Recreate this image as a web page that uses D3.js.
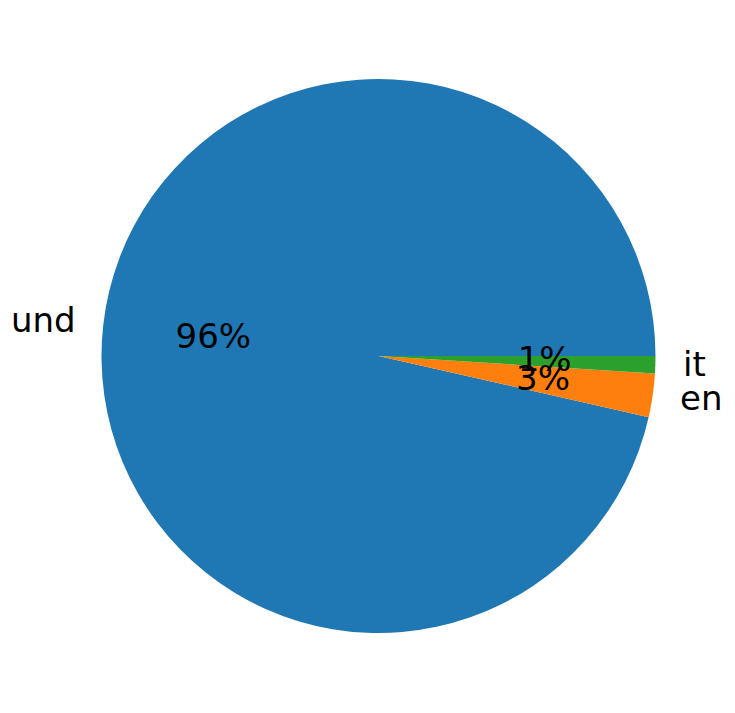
<!DOCTYPE html>
<html lang="en">
<head>
  <title>language pie</title>
  <script type="text/javascript" src="https://cdn.jsdelivr.net/npm/d3@7"></script>
  <style>
    body {
      margin: 0px;
      background: white;
    }
    svg {
      display: block;
    }
  </style>
</head>
<body>
  <script type="text/javascript">
    // Data
    var labels = ["und", "en", "it"];
    var shares = [96.45, 2.55, 1.0];
    var colors = ["#1f77b4", "#ff7f0e", "#2ca02c"];

    var width = 735;
    var height = 713;
    var cx = 378.5;
    var cy = 356;
    var radius = 277;
    var fontSize = 34;

    var svg = d3.select("body").append("svg")
      .attr("width", width)
      .attr("height", height);

    svg.append("rect")
      .attr("width", width)
      .attr("height", height)
      .attr("fill", "white");

    var rows = labels.map(function(d, i) { return {label: d, value: shares[i], color: colors[i]}; });

    // counterclockwise from 3 o'clock, like matplotlib
    var pie = d3.pie()
      .value(function(d) { return d.value; })
      .sort(null)
      .startAngle(Math.PI / 2)
      .endAngle(Math.PI / 2 - 2 * Math.PI);

    var arcs = pie(rows);
    var total = d3.sum(shares);

    var arc = d3.arc().innerRadius(0).outerRadius(radius);

    var g = svg.append("g").attr("transform", "translate(" + cx + "," + cy + ")");

    g.selectAll("path")
      .data(arcs)
      .enter().append("path")
      .attr("d", arc)
      .attr("fill", function(d) { return d.data.color; });

    var pos = function(d, k) {
      var a = (d.startAngle + d.endAngle) / 2;
      return [k * radius * Math.sin(a), -k * radius * Math.cos(a)];
    };

    // baseline shift so the text box is centred (matplotlib va=center)
    var dy = 0.3 * fontSize;
    var fmt = d3.format(".0f");

    g.selectAll("text.pct")
      .data(arcs)
      .enter().append("text")
      .attr("class", "pct")
      .attr("x", function(d) { return pos(d, 0.6)[0]; })
      .attr("y", function(d) { return pos(d, 0.6)[1] + dy; })
      .attr("text-anchor", "middle")
      .style("font-family", "DejaVu Sans")
      .style("font-size", fontSize + "px")
      .attr("fill", "black")
      .text(function(d) { return fmt(d.data.value / total * 100) + "%"; });

    g.selectAll("text.lab")
      .data(arcs)
      .enter().append("text")
      .attr("class", "lab")
      .attr("x", function(d) { return pos(d, 1.1)[0]; })
      .attr("y", function(d) { return pos(d, 1.1)[1] + dy; })
      .attr("text-anchor", function(d) { return pos(d, 1.1)[0] < 0 ? "end" : "start"; })
      .style("font-family", "DejaVu Sans")
      .style("font-size", fontSize + "px")
      .attr("fill", "black")
      .text(function(d) { return d.data.label; });
  </script>
</body>
</html>
